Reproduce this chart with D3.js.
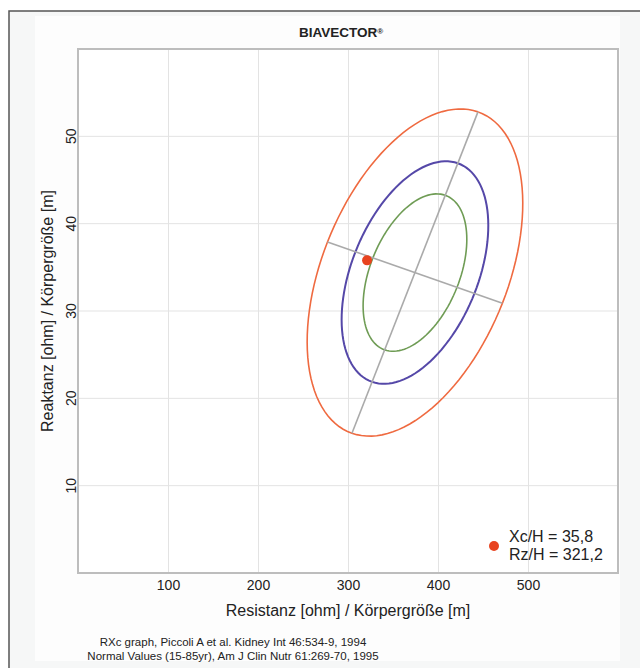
<!DOCTYPE html>
<html lang="de">
<head>
<meta charset="UTF-8">
<title>BIAVECTOR</title>
<script src="https://d3js.org/d3.v7.min.js"></script>
<style>
    body { margin: 0; background: #ffffff; font-family: "Liberation Sans", Arial, sans-serif; }
    text { fill: #222; }
    .tick-label { font-size: 14px; }
    .axis-title { font-size: 16px; }
    .legend-text { font-size: 16px; }
    .note { font-size: 11.5px; }
</style>
</head>
<body>
<div id="chart"></div>
<script>
// axis ticks and domains
const xTicks = [100, 200, 300, 400, 500];
const yTicks = [10, 20, 30, 40, 50];
const xDomain = [0, 600];
const yDomain = [0, 60];

// reference ellipses (R/H, Xc/H), semi-axis vectors of the 95% ellipse
const ellipseCenter = [374.4, 34.4];
const majorSemi = [70, 18.4];
const minorSemi = [97.2, -3.5];
const tolerance = [0.50, 0.75, 0.95];
const ellipseColors = ["#6f9c55", "#5548a8", "#ef6a40"];

// measured subject
const subjectRz = 321.2;
const subjectXc = 35.8;

const W = 640, H = 668;
const plot = { left: 78, right: 618, top: 49, bottom: 573 };

const svg = d3.select("#chart").append("svg")
    .attr("width", W)
    .attr("height", H);

// frame and panel
svg.append("rect").attr("x", 9).attr("y", 11).attr("width", W).attr("height", H)
    .attr("fill", "#f6f7f7").attr("stroke", "#555").attr("stroke-width", 1.5);
svg.append("rect").attr("x", 35).attr("y", 16).attr("width", 585).attr("height", 645)
    .attr("fill", "#fdfdfd");

const x = d3.scaleLinear().domain(xDomain).range([plot.left, plot.right]);
const y = d3.scaleLinear().domain(yDomain).range([plot.bottom, plot.top]);

svg.append("rect")
    .attr("x", plot.left).attr("y", plot.top)
    .attr("width", plot.right - plot.left).attr("height", plot.bottom - plot.top)
    .attr("fill", "#ffffff");

// grid
svg.append("g")
    .attr("transform", `translate(0,${plot.bottom})`)
    .call(d3.axisBottom(x).tickValues(xTicks).tickSize(-(plot.bottom - plot.top)).tickPadding(7))
    .call(g => {
        g.select(".domain").remove();
        g.selectAll(".tick line").attr("stroke", "#e3e3e3");
        g.selectAll(".tick text").attr("class", "tick-label").attr("fill", "#222")
            .style("font-family", "'Liberation Sans', Arial, sans-serif");
    });

svg.append("g").selectAll("line")
    .data(yTicks).join("line")
    .attr("x1", plot.left).attr("x2", plot.right)
    .attr("y1", d => y(d)).attr("y2", d => y(d))
    .attr("stroke", "#e3e3e3");

// y tick labels, rotated
svg.append("g").selectAll("text")
    .data(yTicks).join("text")
    .attr("class", "tick-label")
    .attr("transform", d => `translate(71,${y(d)}) rotate(-90)`)
    .attr("text-anchor", "middle")
    .attr("dy", "0.35em")
    .text(d => d);

// plot border
svg.append("rect")
    .attr("x", plot.left).attr("y", plot.top)
    .attr("width", plot.right - plot.left).attr("height", plot.bottom - plot.top)
    .attr("fill", "none").attr("stroke", "#bdbdbd").attr("stroke-width", 2);

// ellipses
const chi95 = Math.sqrt(-2 * Math.log(0.05));
const angles = d3.range(0, 361, 3).map(a => a * Math.PI / 180);
const ellipsePath = d3.line();

tolerance.forEach((p, i) => {
    const k = Math.sqrt(-2 * Math.log(1 - p)) / chi95;
    const pts = angles.map(t => [
        x(ellipseCenter[0] + k * (Math.cos(t) * majorSemi[0] + Math.sin(t) * minorSemi[0])),
        y(ellipseCenter[1] + k * (Math.cos(t) * majorSemi[1] + Math.sin(t) * minorSemi[1]))
    ]);
    svg.append("path")
        .attr("d", ellipsePath(pts))
        .attr("fill", "none")
        .attr("stroke", ellipseColors[i])
        .attr("stroke-width", i === 1 ? 2 : 1.6);
});

// major and minor axes of the 95% ellipse
[majorSemi, minorSemi].forEach(v => {
    svg.append("line")
        .attr("x1", x(ellipseCenter[0] - v[0])).attr("y1", y(ellipseCenter[1] - v[1]))
        .attr("x2", x(ellipseCenter[0] + v[0])).attr("y2", y(ellipseCenter[1] + v[1]))
        .attr("stroke", "#aaaaaa").attr("stroke-width", 1.6);
});

// subject point
svg.append("circle")
    .attr("cx", x(subjectRz)).attr("cy", y(subjectXc)).attr("r", 5)
    .attr("fill", "#e8431f");

// legend
svg.append("circle").attr("cx", 494).attr("cy", 546).attr("r", 5).attr("fill", "#e8431f");
svg.append("text").attr("class", "legend-text").attr("x", 509).attr("y", 542)
    .text(`Xc/H = ${String(subjectXc).replace(".", ",")}`);
svg.append("text").attr("class", "legend-text").attr("x", 509).attr("y", 560)
    .text(`Rz/H = ${String(subjectRz).replace(".", ",")}`);

// titles
const title = svg.append("text").attr("x", 341).attr("y", 37).attr("text-anchor", "middle")
    .style("font-size", "13.5px").style("font-weight", "bold");
title.append("tspan").text("BIAVECTOR");
title.append("tspan").attr("dy", "-0.35em").style("font-size", "8px").text("®");

svg.append("text").attr("class", "axis-title")
    .attr("x", (plot.left + plot.right) / 2).attr("y", 616)
    .attr("text-anchor", "middle")
    .text("Resistanz [ohm] / Körpergröße [m]");

svg.append("text").attr("class", "axis-title")
    .attr("transform", `translate(47,${(plot.top + plot.bottom) / 2}) rotate(-90)`)
    .attr("text-anchor", "middle")
    .attr("dy", "0.35em")
    .text("Reaktanz [ohm] / Körpergröße [m]");

// references
svg.append("text").attr("class", "note").attr("x", 233).attr("y", 646)
    .attr("text-anchor", "middle")
    .text("RXc graph, Piccoli A et al. Kidney Int 46:534-9, 1994");
svg.append("text").attr("class", "note").attr("x", 233).attr("y", 659.5)
    .attr("text-anchor", "middle")
    .text("Normal Values (15-85yr), Am J Clin Nutr 61:269-70, 1995");
</script>
</body>
</html>
